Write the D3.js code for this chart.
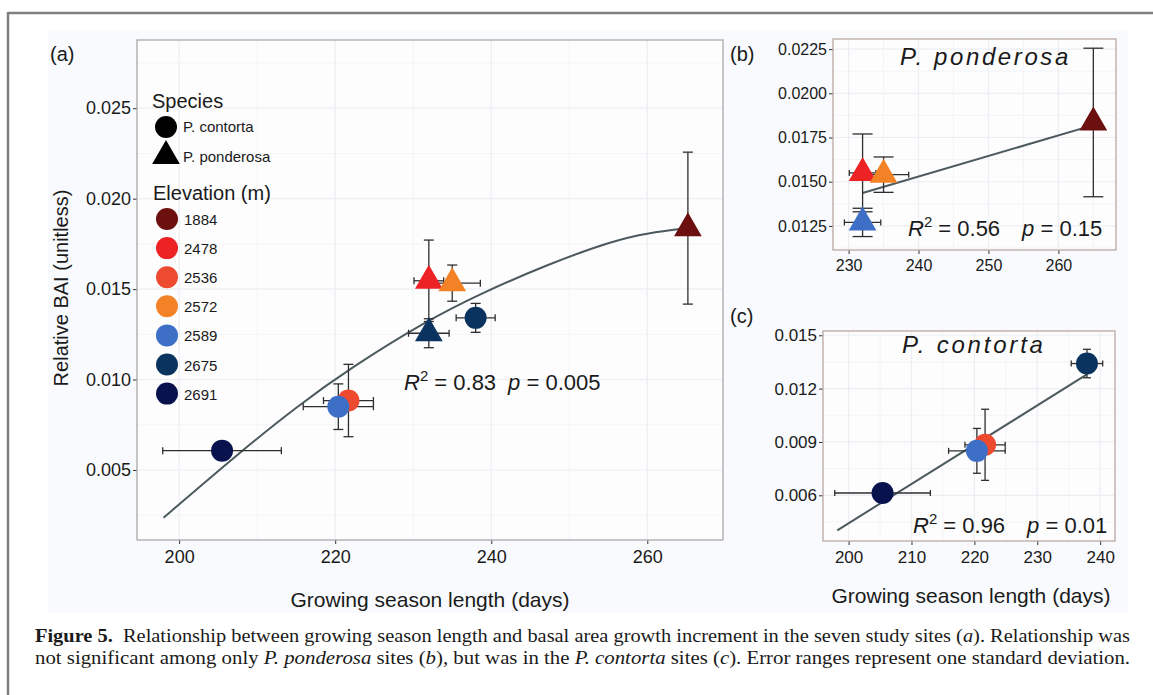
<!DOCTYPE html>
<html>
<head>
<meta charset="utf-8">
<script src="https://cdn.jsdelivr.net/npm/d3@7"></script>
<style>
  body { margin: 0; background: #ffffff; }
  text { font-family: "Liberation Sans", Arial, Helvetica, sans-serif; fill: #1a1a1a; }
  .cap text, text.cap { font-family: "Liberation Serif", "Times New Roman", serif; }
</style>
</head>
<body>
<div id="fig"></div>
<script>
// ---- data ----
var elevations = ["1884", "2478", "2536", "2572", "2589", "2675", "2691"];
var elevColors = ["#6b0f0f", "#ec2224", "#ee4a30", "#f38125", "#3d6fc6", "#0b335f", "#08134d"];

// panel (a): all sites, in drawing order
var siteSpecies = ["contorta", "contorta", "contorta", "contorta", "ponderosa", "ponderosa", "ponderosa", "ponderosa"];
var siteElev    = ["2691", "2536", "2589", "2675", "2478", "2572", "2675", "1884"];
var siteGsl     = [205.5, 221.7, 220.4, 238.0, 232.0, 235.0, 232.0, 265.2];
var siteGslSd   = [7.6, 3.2, 4.5, 2.5, 1.9, 3.6, 2.6, 0];
var siteBai     = [0.00607, 0.00884, 0.00850, 0.01341, 0.01546, 0.01533, 0.01256, 0.01837];
var siteBaiSd   = [0, 0.0020, 0.00126, 0.0008, 0.00225, 0.0010, 0.0008, 0.0042];

// fitted curve in (a)
var curveGsl = [198.0, 207.8, 215.1, 221.9, 231.8, 238.6, 247.1, 255.7, 260.0, 265.3];
var curveBai = [0.00236, 0.00599, 0.00851, 0.01062, 0.01327, 0.01474, 0.01635, 0.01769, 0.01810, 0.01838];

// panel (b): P. ponderosa
var pondElev   = ["2478", "2572", "2589", "1884"];
var pondGsl    = [232.0, 235.0, 232.0, 265.0];
var pondGslSd  = [1.9, 3.6, 2.6, 0];
var pondBai    = [0.01550, 0.01540, 0.01270, 0.01835];
var pondBaiSd  = [0.0022, 0.0010, 0.0008, 0.0042];
var pondLineGsl = [232.0, 265.0];
var pondLineBai = [0.01436, 0.01820];

// panel (c): P. contorta
var contElev   = ["2691", "2536", "2589", "2675"];
var contGsl    = [205.4, 221.7, 220.4, 237.9];
var contGslSd  = [7.6, 3.2, 4.5, 2.5];
var contBai    = [0.00613, 0.00884, 0.00850, 0.01341];
var contBaiSd  = [0, 0.0020, 0.00126, 0.0008];
var contLineGsl = [198.2, 237.9];
var contLineBai = [0.00403, 0.0128];

// ticks
var aXTicks = [200, 220, 240, 260];
var aYTicks = [0.005, 0.010, 0.015, 0.020, 0.025];
var bXTicks = [230, 240, 250, 260];
var bYTicks = [0.0125, 0.0150, 0.0175, 0.0200, 0.0225];
var cXTicks = [200, 210, 220, 230, 240];
var cYTicks = [0.006, 0.009, 0.012, 0.015];

var color = d3.scaleOrdinal().domain(elevations).range(elevColors);

var svg = d3.select("#fig").append("svg")
  .attr("width", 1153).attr("height", 695);

// figure frame + light background
svg.append("rect").attr("x", 48).attr("y", 30).attr("width", 1080).attr("height", 583).attr("fill", "#f9fafd");
svg.append("line").attr("x1", 8).attr("x2", 1153).attr("y1", 13).attr("y2", 13).attr("stroke", "#808080").attr("stroke-width", 2.5);
svg.append("line").attr("x1", 8).attr("x2", 8).attr("y1", 12).attr("y2", 695).attr("stroke", "#808080").attr("stroke-width", 2.5);

function midpoints(t) {
  var m = [];
  for (var i = 0; i < t.length - 1; i++) m.push((t[i] + t[i + 1]) / 2);
  m.push(t[t.length - 1] + (t[1] - t[0]) / 2);
  m.unshift(t[0] - (t[1] - t[0]) / 2);
  return m;
}

function panel(o) {
  var x = d3.scaleLinear().domain(o.xDomain).range([o.left, o.right]);
  var y = d3.scaleLinear().domain(o.yDomain).range([o.bottom, o.top]);
  var g = svg.append("g");
  g.append("rect").attr("x", o.left).attr("y", o.top)
    .attr("width", o.right - o.left).attr("height", o.bottom - o.top)
    .attr("fill", "#fdfdfe");

  var grid = g.append("g");
  grid.selectAll(".vminor").data(midpoints(o.xTicks).filter(function(d) { return d > o.xDomain[0] && d < o.xDomain[1]; }))
    .enter().append("line")
    .attr("x1", x).attr("x2", x).attr("y1", o.top).attr("y2", o.bottom)
    .attr("stroke", "#f3f4f7").attr("stroke-width", 1);
  grid.selectAll(".hminor").data(midpoints(o.yTicks).filter(function(d) { return d > o.yDomain[0] && d < o.yDomain[1]; }))
    .enter().append("line")
    .attr("y1", y).attr("y2", y).attr("x1", o.left).attr("x2", o.right)
    .attr("stroke", "#f3f4f7").attr("stroke-width", 1);
  grid.selectAll(".vmajor").data(o.xTicks).enter().append("line")
    .attr("x1", x).attr("x2", x).attr("y1", o.top).attr("y2", o.bottom)
    .attr("stroke", "#eceef3").attr("stroke-width", 1.2);
  grid.selectAll(".hmajor").data(o.yTicks).enter().append("line")
    .attr("y1", y).attr("y2", y).attr("x1", o.left).attr("x2", o.right)
    .attr("stroke", "#eceef3").attr("stroke-width", 1.2);

  var xAxis = g.append("g").attr("transform", "translate(0," + o.bottom + ")")
    .call(d3.axisBottom(x).tickValues(o.xTicks).tickSize(4).tickPadding(3).tickFormat(d3.format("d")));
  var yAxis = g.append("g").attr("transform", "translate(" + o.left + ",0)")
    .call(d3.axisLeft(y).tickValues(o.yTicks).tickSize(4).tickPadding(2).tickFormat(d3.format(o.yFmt)));
  [xAxis, yAxis].forEach(function(a) {
    a.select(".domain").remove();
    a.selectAll(".tick line").attr("stroke", "#333");
    a.selectAll(".tick text").style("font-size", o.fontSize + "px").attr("fill", "#1a1a1a");
  });
  xAxis.selectAll(".tick text").attr("dy", "0.9em");

  g.append("rect").attr("x", o.left).attr("y", o.top)
    .attr("width", o.right - o.left).attr("height", o.bottom - o.top)
    .attr("fill", "none").attr("stroke", o.border).attr("stroke-width", 1.3);
  return {x: x, y: y, g: g};
}

var lineColor = "#4c5a5e";
var barColor = "#2e2e2e";

function triPath(r) {
  var h = r * Math.sqrt(3) / 2;
  return "M0," + (-r) + "L" + h + "," + (r / 2) + "L" + (-h) + "," + (r / 2) + "Z";
}

function drawSites(p, gsl, gslSd, bai, baiSd, elev, species, capV, capH) {
  var idx = d3.range(gsl.length);
  var bars = p.g.append("g").attr("stroke", barColor).attr("stroke-width", 1.3).attr("fill", "none");
  idx.forEach(function(i) {
    var cx = p.x(gsl[i]), cy = p.y(bai[i]);
    if (baiSd[i] > 0) {
      var y0 = p.y(bai[i] - baiSd[i]), y1 = p.y(bai[i] + baiSd[i]);
      bars.append("line").attr("x1", cx).attr("x2", cx).attr("y1", y0).attr("y2", y1);
      bars.append("line").attr("x1", cx - capV / 2).attr("x2", cx + capV / 2).attr("y1", y0).attr("y2", y0);
      bars.append("line").attr("x1", cx - capV / 2).attr("x2", cx + capV / 2).attr("y1", y1).attr("y2", y1);
    }
    if (gslSd[i] > 0) {
      var x0 = p.x(gsl[i] - gslSd[i]), x1 = p.x(gsl[i] + gslSd[i]);
      bars.append("line").attr("x1", x0).attr("x2", x1).attr("y1", cy).attr("y2", cy);
      bars.append("line").attr("x1", x0).attr("x2", x0).attr("y1", cy - capH / 2).attr("y2", cy + capH / 2);
      bars.append("line").attr("x1", x1).attr("x2", x1).attr("y1", cy - capH / 2).attr("y2", cy + capH / 2);
    }
  });
  idx.forEach(function(i) {
    var cx = p.x(gsl[i]), cy = p.y(bai[i]);
    if (species[i] === "contorta") {
      p.g.append("circle").attr("cx", cx).attr("cy", cy).attr("r", 11).attr("fill", color(elev[i]));
    } else {
      p.g.append("path").attr("d", triPath(16)).attr("transform", "translate(" + cx + "," + cy + ")")
        .attr("fill", color(elev[i]));
    }
  });
}

function statText(x, y, size, r2, pv, gap) {
  var t = svg.append("text").attr("x", x).attr("y", y).style("font-size", size + "px");
  t.append("tspan").style("font-style", "italic").text("R");
  t.append("tspan").attr("dy", -size * 0.42).style("font-size", (size * 0.68) + "px").text("2");
  t.append("tspan").attr("dy", size * 0.42).text(" = " + r2);
  t.append("tspan").attr("dx", gap).style("font-style", "italic").text("p");
  t.append("tspan").text(" = " + pv);
}

// ---------------- panel (a) ----------------
var pa = panel({left: 137, right: 723, top: 40, bottom: 540,
  xDomain: [194.6, 269.7], yDomain: [0.00113, 0.02877],
  xTicks: aXTicks, yTicks: aYTicks, yFmt: ".3f", fontSize: 18, border: "#a9a9a9"});

var line = d3.line().x(function(d) { return pa.x(d[0]); }).y(function(d) { return pa.y(d[1]); }).curve(d3.curveBasis);
pa.g.append("path").datum(d3.zip(curveGsl, curveBai)).attr("d", line)
  .attr("fill", "none").attr("stroke", lineColor).attr("stroke-width", 2);

drawSites(pa, siteGsl, siteGslSd, siteBai, siteBaiSd, siteElev, siteSpecies, 10, 7);
statText(404, 390, 22, "0.83", "0.005", 12);

svg.append("text").attr("x", 50).attr("y", 61).style("font-size", "20px").text("(a)");
svg.append("text").attr("x", 430).attr("y", 607).attr("text-anchor", "middle").style("font-size", "21px")
  .text("Growing season length (days)");
svg.append("text").attr("transform", "translate(68,288) rotate(-90)").attr("text-anchor", "middle")
  .style("font-size", "20px").text("Relative BAI (unitless)");

// legend
var lg = svg.append("g");
lg.append("text").attr("x", 152).attr("y", 108).style("font-size", "20px").text("Species");
lg.append("circle").attr("cx", 166).attr("cy", 127).attr("r", 11).attr("fill", "#000");
lg.append("text").attr("x", 183).attr("y", 132).style("font-size", "15px").text("P. contorta");
lg.append("path").attr("d", triPath(16)).attr("transform", "translate(166,156)").attr("fill", "#000");
lg.append("text").attr("x", 183).attr("y", 162).style("font-size", "15px").text("P. ponderosa");
lg.append("text").attr("x", 153).attr("y", 200).style("font-size", "20px").text("Elevation (m)");
lg.selectAll(".el").data(elevations).enter().append("circle")
  .attr("cx", 167).attr("cy", function(d, i) { return 219 + i * 29.1; }).attr("r", 11)
  .attr("fill", function(d) { return color(d); });
lg.selectAll(".elt").data(elevations).enter().append("text")
  .attr("x", 184).attr("y", function(d, i) { return 225 + i * 29.1; })
  .style("font-size", "15px").text(function(d) { return d; });

// ---------------- panel (b) ----------------
var pb = panel({left: 833, right: 1116, top: 39, bottom: 250,
  xDomain: [227.77, 268.24], yDomain: [0.01114, 0.02307],
  xTicks: bXTicks, yTicks: bYTicks, yFmt: ".4f", fontSize: 16, border: "#bba9a3"});
var lineB = d3.line().x(function(d) { return pb.x(d[0]); }).y(function(d) { return pb.y(d[1]); });
pb.g.append("path").datum(d3.zip(pondLineGsl, pondLineBai)).attr("d", lineB)
  .attr("fill", "none").attr("stroke", lineColor).attr("stroke-width", 2);
drawSites(pb, pondGsl, pondGslSd, pondBai, pondBaiSd, pondElev, ["p", "p", "p", "p"], 20, 6);
svg.append("text").attr("x", 730).attr("y", 61).style("font-size", "20px").text("(b)");
svg.append("text").attr("x", 900).attr("y", 65).style("font-size", "24px").style("font-style", "italic")
  .style("letter-spacing", "2.6px").text("P. ponderosa");
statText(908, 236, 22, "0.56", "0.15", 22);

// ---------------- panel (c) ----------------
var pc = panel({left: 823, right: 1115, top: 331, bottom: 541,
  xDomain: [195.93, 242.36], yDomain: [0.00343, 0.01524],
  xTicks: cXTicks, yTicks: cYTicks, yFmt: ".3f", fontSize: 17, border: "#bba9a3"});
var lineC = d3.line().x(function(d) { return pc.x(d[0]); }).y(function(d) { return pc.y(d[1]); });
pc.g.append("path").datum(d3.zip(contLineGsl, contLineBai)).attr("d", lineC)
  .attr("fill", "none").attr("stroke", lineColor).attr("stroke-width", 2);
drawSites(pc, contGsl, contGslSd, contBai, contBaiSd, contElev, ["contorta", "contorta", "contorta", "contorta"], 8, 6);
svg.append("text").attr("x", 730).attr("y", 323).style("font-size", "20px").text("(c)");
svg.append("text").attr("x", 902).attr("y", 353).style("font-size", "24px").style("font-style", "italic")
  .style("letter-spacing", "2.8px").text("P. contorta");
statText(913, 533, 22, "0.96", "0.01", 22);
svg.append("text").attr("x", 971).attr("y", 603).attr("text-anchor", "middle").style("font-size", "21px")
  .text("Growing season length (days)");

// ---------------- caption ----------------
var cap = svg.append("g").attr("class", "cap");
var l1 = cap.append("text").attr("x", 35).attr("y", 642).style("font-size", "18.5px")
  .attr("textLength", 1095).attr("lengthAdjust", "spacingAndGlyphs");
l1.append("tspan").style("font-weight", "bold").text("Figure 5.");
l1.append("tspan").text("\u00a0 Relationship between growing season length and basal area growth increment in the seven study sites (");
l1.append("tspan").style("font-style", "italic").text("a");
l1.append("tspan").text("). Relationship was");
var l2 = cap.append("text").attr("x", 35).attr("y", 664).style("font-size", "18.5px")
  .attr("textLength", 1095).attr("lengthAdjust", "spacingAndGlyphs");
l2.append("tspan").text("not significant among only ");
l2.append("tspan").style("font-style", "italic").text("P. ponderosa");
l2.append("tspan").text(" sites (");
l2.append("tspan").style("font-style", "italic").text("b");
l2.append("tspan").text("), but was in the ");
l2.append("tspan").style("font-style", "italic").text("P. contorta");
l2.append("tspan").text(" sites (");
l2.append("tspan").style("font-style", "italic").text("c");
l2.append("tspan").text("). Error ranges represent one standard deviation.");
</script>
</body>
</html>
